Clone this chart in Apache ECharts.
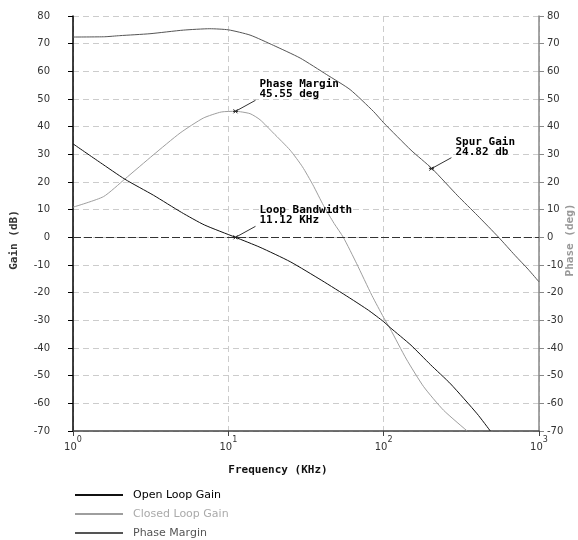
<!DOCTYPE html>
<html>
<head>
<meta charset="utf-8">
<script src="https://cdn.jsdelivr.net/npm/echarts@6/dist/echarts.min.js"></script>
<style>html,body{margin:0;padding:0;background:#fff;}#c{width:578px;height:540px;}</style>
</head>
<body>
<div id="c"></div>
<script>
// ---- data ----
const openFreq  = [1, 1.5, 2.16, 3.3, 5, 7, 11.12, 16, 25, 40, 60, 80, 100, 110, 150, 200, 270, 400, 486];
const openGain  = [33.8, 27, 21, 15.2, 9, 4.5, 0, -3.6, -8.8, -15.6, -21.8, -26.4, -30.5, -32.6, -39, -46, -53, -63.8, -70];

const closedFreq = [1, 1.57, 2.16, 3.29, 4.89, 6.9, 9, 11.12, 13.8, 16, 19.5, 25, 30, 35, 41, 48, 55, 67, 84, 100, 110, 140, 181, 243, 345];
const closedGain = [10.9, 14.7, 21.1, 29.8, 37.7, 43.1, 45.3, 45.55, 44.7, 42.5, 37.7, 31.5, 25.5, 19, 11.5, 5, 0, -9.5, -21, -29, -33, -44, -54, -62.5, -70];

const phaseFreq = [1, 1.6, 2, 3.13, 5.14, 7.6, 10, 13.8, 19.5, 29, 43, 60.8, 86, 100, 150, 205, 300, 400, 550, 700, 850, 1000];
const phaseVal  = [72.4, 72.5, 72.9, 73.6, 74.9, 75.4, 75, 73.1, 69.4, 64.8, 58.8, 53.4, 45.5, 41.4, 31.5, 24.82, 15, 8, 0, -6.5, -11.5, -16.1];

const seriesNames = ['Open Loop Gain', 'Closed Loop Gain', 'Phase Margin'];
const seriesColors = ['#111111', '#9e9e9e', '#555555'];
const legendTextColors = ['#000000', '#aaaaaa', '#555555'];

const annotFreq   = [11.12, 11.12, 203];
const annotValue  = [45.55, 0, 24.82];
const annotLine1  = ['Phase Margin', 'Loop Bandwidth', 'Spur Gain'];
const annotLine2  = ['45.55 deg', '11.12 KHz', '24.82 db'];

const decadeExponents = {1: '0', 10: '1', 100: '2', 1000: '3'};
const yMin = -70, yMax = 80, yStep = 10;

const zip = (a, b) => a.map((v, i) => [v, b[i]]);
const mono = 'DejaVu Sans Mono';
const sans = 'DejaVu Sans';

const chart = echarts.init(document.getElementById('c'), null, {renderer: 'canvas'});

const yAxisBase = {
  type: 'value', min: yMin, max: yMax, interval: yStep,
  axisTick: {show: true, length: 5, inside: false},
  axisLabel: {fontFamily: sans, fontSize: 10, color: '#333'}
};

const lineCommon = {type: 'line', symbol: 'none', smooth: 0.2};

const option = {
  animation: false,
  backgroundColor: '#fff',
  grid: {left: 73, right: 39, top: 16, bottom: 109, containLabel: false},
  xAxis: {
    type: 'log', logBase: 10, min: 1, max: 1000,
    axisLine: {show: true, onZero: false, lineStyle: {color: '#444', width: 1.5}},
    axisTick: {show: true, length: 5, lineStyle: {color: '#444'}},
    minorTick: {show: false},
    splitLine: {show: true, lineStyle: {color: '#cccccc', type: [6, 4], width: 1}},
    axisLabel: {
      margin: 5,
      formatter: v => '{b|10}{s|' + (decadeExponents[Math.round(v)] || '') + '}',
      rich: {
        b: {fontFamily: sans, fontSize: 10, color: '#333', lineHeight: 16, verticalAlign: 'bottom'},
        s: {fontFamily: sans, fontSize: 8, color: '#333', lineHeight: 10, verticalAlign: 'top'}
      }
    }
  },
  yAxis: [
    Object.assign({}, yAxisBase, {
      position: 'left',
      axisLine: {show: true, onZero: false, lineStyle: {color: '#000', width: 1.5}},
      axisTick: {show: true, length: 5, lineStyle: {color: '#000'}},
      axisLabel: {fontFamily: sans, fontSize: 10, color: '#333', margin: 23},
      splitLine: {show: true, lineStyle: {color: '#cccccc', type: [6, 4], width: 1}}
    }),
    Object.assign({}, yAxisBase, {
      position: 'right',
      axisLine: {show: true, onZero: false, lineStyle: {color: '#888', width: 1.5}},
      axisTick: {show: true, length: 5, lineStyle: {color: '#888'}},
      axisLabel: {fontFamily: sans, fontSize: 10, color: '#333', margin: 8},
      splitLine: {show: false}
    })
  ],
  legend: {
    orient: 'vertical', left: 75, top: 488, padding: 0,
    itemWidth: 48, itemHeight: 14, itemGap: 5,
    icon: 'path://M0 6 L48 6 L48 8 L0 8 Z',
    data: seriesNames.map((n, i) => ({name: n, textStyle: {color: legendTextColors[i]}})),
    textStyle: {fontFamily: sans, fontSize: 11, lineHeight: 14, padding: [0, 0, 0, 5]}
  },
  series: [
    Object.assign({}, lineCommon, {
      name: seriesNames[0], yAxisIndex: 0,
      data: zip(openFreq, openGain),
      color: seriesColors[0],
      lineStyle: {color: seriesColors[0], width: 1},
      markLine: {
        silent: true, symbol: 'none', label: {show: false},
        lineStyle: {color: '#333', type: [8, 3], width: 1},
        data: [{yAxis: 0}]
      },
      z: 4
    }),
    Object.assign({}, lineCommon, {
      name: seriesNames[1], yAxisIndex: 0,
      data: zip(closedFreq, closedGain),
      color: seriesColors[1],
      lineStyle: {color: seriesColors[1], width: 1},
      z: 3
    }),
    Object.assign({}, lineCommon, {
      name: seriesNames[2], yAxisIndex: 1,
      data: zip(phaseFreq, phaseVal),
      color: seriesColors[2],
      lineStyle: {color: seriesColors[2], width: 1},
      z: 3
    }),
    {
      type: 'custom', yAxisIndex: 0, silent: true, z: 10,
      data: zip(annotFreq, annotValue),
      renderItem: function (params, api) {
        const i = params.dataIndex;
        const p = api.coord([api.value(0), api.value(1)]);
        const x = p[0], y = p[1];
        return {
          type: 'group',
          children: [
            {type: 'line', shape: {x1: x, y1: y, x2: x + 20, y2: y - 11}, style: {stroke: '#333', lineWidth: 1}},
            {type: 'line', shape: {x1: x - 2, y1: y - 2, x2: x + 2, y2: y + 2}, style: {stroke: '#222', lineWidth: 1}},
            {type: 'line', shape: {x1: x - 2, y1: y + 2, x2: x + 2, y2: y - 2}, style: {stroke: '#222', lineWidth: 1}},
            {type: 'line', shape: {x1: x - 2.5, y1: y, x2: x + 2.5, y2: y}, style: {stroke: '#222', lineWidth: 1}},
            {type: 'text', x: x + 24, y: y - 32,
              style: {text: annotLine1[i] + '\n' + annotLine2[i], font: 'bold 11px "' + mono + '"',
                fill: '#000', textAlign: 'left', textVerticalAlign: 'top', lineHeight: 10}}
          ]
        };
      }
    }
  ],
  graphic: [
    {type: 'text', x: 14, y: 240, rotation: Math.PI / 2,
      style: {text: 'Gain (dB)', font: 'bold 11px "' + mono + '"', fill: '#333', textAlign: 'center', textVerticalAlign: 'middle'}},
    {type: 'text', x: 570, y: 240, rotation: Math.PI / 2,
      style: {text: 'Phase (deg)', font: 'bold 11px "' + mono + '"', fill: '#999', textAlign: 'center', textVerticalAlign: 'middle'}},
    {type: 'text', x: 278, y: 470,
      style: {text: 'Frequency (KHz)', font: 'bold 11px "' + mono + '"', fill: '#111', textAlign: 'center', textVerticalAlign: 'middle'}}
  ]
};
chart.setOption(option);
</script>
</body>
</html>
